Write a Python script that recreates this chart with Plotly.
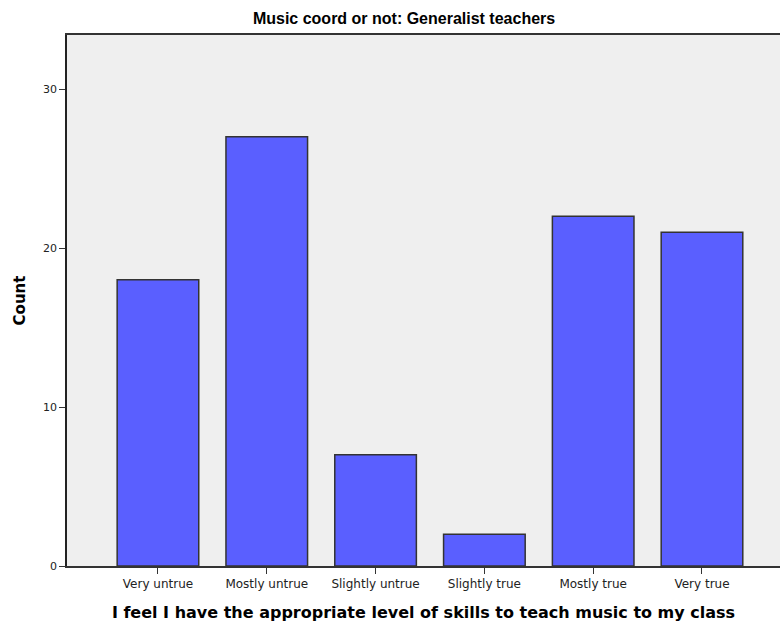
import plotly.graph_objects as go

categories = ["Very untrue", "Mostly untrue", "Slightly untrue", "Slightly true", "Mostly true", "Very true"]
counts = [18, 27, 7, 2, 22, 21]
y_ticks = [0, 10, 20, 30]

fig = go.Figure(
    go.Bar(
        x=categories,
        y=counts,
        width=0.75,
        marker=dict(color="#5A5FFF", line=dict(color="#333333", width=1.5)),
    )
)

fig.update_layout(
    width=780,
    height=623,
    margin=dict(l=67, r=0, t=35, b=57),
    paper_bgcolor="white",
    plot_bgcolor="#EFEFEF",
    showlegend=False,
    title=dict(
        text="<b>Music coord or not: Generalist teachers</b>",
        x=0.518, xanchor="center",
        y=1 - 18 / 623, yanchor="middle", yref="container",
        font=dict(family="Liberation Sans", size=16, color="black"),
    ),
)

fig.update_xaxes(
    range=[-0.836, 5.717],
    showline=True, linecolor="#333333", linewidth=1.5, mirror=True,
    ticks="outside", ticklen=6, tickcolor="#333333",
    tickfont=dict(family="DejaVu Sans", size=12, color="#222222"),
    showgrid=False, automargin=False,
    title=dict(
        text="<b>I feel I have the appropriate level of skills to teach music to my class</b>",
        font=dict(family="DejaVu Sans", size=16, color="black"),
        standoff=17,
    ),
)

fig.update_yaxes(
    range=[0, 33.4],
    tickvals=y_ticks,
    showline=True, linecolor="#222222", linewidth=1.5,
    ticks="outside", ticklen=6, tickcolor="#333333",
    tickfont=dict(family="DejaVu Sans", size=11, color="#222222"),
    showgrid=False, zeroline=False, automargin=False,
    title=dict(
        text="<b>Count</b>",
        font=dict(family="DejaVu Sans", size=15, color="black"),
        standoff=14,
    ),
)

fig.write_html(
    "out.html",
    config={"displayModeBar": False},
    post_script="document.body.style.margin='0';",
)
